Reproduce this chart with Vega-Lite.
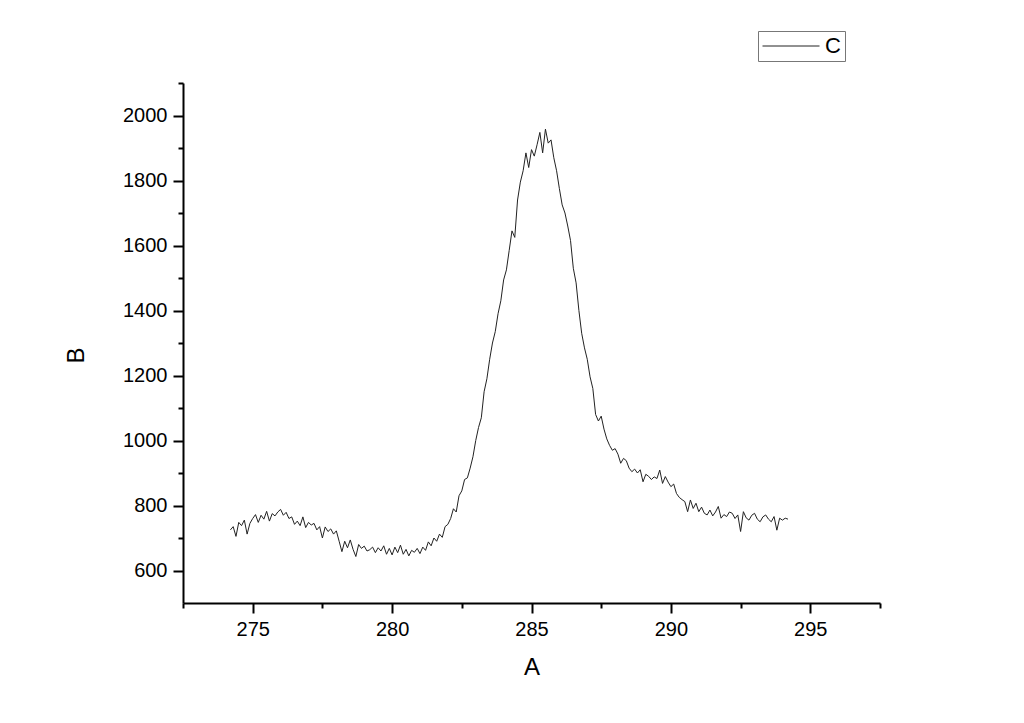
{
  "$schema": "https://vega.github.io/schema/vega-lite/v6.json",
  "width": 697,
  "height": 520,
  "autosize": {"type": "none"},
  "padding": {"left": 183, "top": 83, "right": 144, "bottom": 120},
  "background": "white",
  "config": {
    "view": {"stroke": null},
    "font": "Liberation Sans",
    "axis": {"grid": false, "domainColor": "black", "tickColor": "black", "labelColor": "black", "titleColor": "black", "domainWidth": 2, "tickWidth": 2, "labelFont": "Liberation Sans", "titleFont": "Liberation Sans", "titleFontWeight": "normal"}
  },
  "data": {"values": [
    {"x": 274.2, "y": 725}, {"x": 274.3, "y": 735}, {"x": 274.4, "y": 705}, {"x": 274.5, "y": 748}, {"x": 274.6, "y": 738},
    {"x": 274.7, "y": 755}, {"x": 274.8, "y": 712}, {"x": 274.9, "y": 745}, {"x": 275.0, "y": 760}, {"x": 275.1, "y": 772},
    {"x": 275.2, "y": 748}, {"x": 275.3, "y": 770}, {"x": 275.4, "y": 758}, {"x": 275.5, "y": 782}, {"x": 275.6, "y": 752},
    {"x": 275.7, "y": 775}, {"x": 275.8, "y": 768}, {"x": 275.9, "y": 780}, {"x": 276.0, "y": 788}, {"x": 276.1, "y": 770},
    {"x": 276.2, "y": 779}, {"x": 276.3, "y": 760}, {"x": 276.4, "y": 765}, {"x": 276.5, "y": 742}, {"x": 276.6, "y": 752},
    {"x": 276.7, "y": 738}, {"x": 276.8, "y": 765}, {"x": 276.9, "y": 732}, {"x": 277.0, "y": 748}, {"x": 277.1, "y": 740},
    {"x": 277.2, "y": 745}, {"x": 277.3, "y": 725}, {"x": 277.4, "y": 735}, {"x": 277.5, "y": 700}, {"x": 277.6, "y": 734},
    {"x": 277.7, "y": 720}, {"x": 277.8, "y": 728}, {"x": 277.9, "y": 712}, {"x": 278.0, "y": 722}, {"x": 278.1, "y": 690},
    {"x": 278.2, "y": 658}, {"x": 278.3, "y": 690}, {"x": 278.4, "y": 670}, {"x": 278.5, "y": 694}, {"x": 278.6, "y": 665},
    {"x": 278.7, "y": 643}, {"x": 278.8, "y": 680}, {"x": 278.9, "y": 668}, {"x": 279.0, "y": 675}, {"x": 279.1, "y": 660},
    {"x": 279.2, "y": 664}, {"x": 279.3, "y": 672}, {"x": 279.4, "y": 655}, {"x": 279.5, "y": 670}, {"x": 279.6, "y": 660},
    {"x": 279.7, "y": 676}, {"x": 279.8, "y": 650}, {"x": 279.9, "y": 668}, {"x": 280.0, "y": 648}, {"x": 280.1, "y": 672},
    {"x": 280.2, "y": 655}, {"x": 280.3, "y": 678}, {"x": 280.4, "y": 650}, {"x": 280.5, "y": 665}, {"x": 280.6, "y": 645},
    {"x": 280.7, "y": 662}, {"x": 280.8, "y": 656}, {"x": 280.9, "y": 668}, {"x": 281.0, "y": 652}, {"x": 281.1, "y": 672},
    {"x": 281.2, "y": 662}, {"x": 281.3, "y": 688}, {"x": 281.4, "y": 676}, {"x": 281.5, "y": 700}, {"x": 281.6, "y": 690},
    {"x": 281.7, "y": 712}, {"x": 281.8, "y": 702}, {"x": 281.9, "y": 735}, {"x": 282.0, "y": 742}, {"x": 282.1, "y": 760},
    {"x": 282.2, "y": 790}, {"x": 282.3, "y": 780}, {"x": 282.4, "y": 830}, {"x": 282.5, "y": 845}, {"x": 282.6, "y": 880},
    {"x": 282.7, "y": 885}, {"x": 282.8, "y": 915}, {"x": 282.9, "y": 950}, {"x": 283.0, "y": 1000}, {"x": 283.1, "y": 1040},
    {"x": 283.2, "y": 1070}, {"x": 283.3, "y": 1150}, {"x": 283.4, "y": 1190}, {"x": 283.5, "y": 1250}, {"x": 283.6, "y": 1300},
    {"x": 283.7, "y": 1335}, {"x": 283.8, "y": 1390}, {"x": 283.9, "y": 1430}, {"x": 284.0, "y": 1494}, {"x": 284.1, "y": 1525},
    {"x": 284.2, "y": 1585}, {"x": 284.3, "y": 1645}, {"x": 284.4, "y": 1625}, {"x": 284.5, "y": 1740}, {"x": 284.6, "y": 1795},
    {"x": 284.7, "y": 1830}, {"x": 284.8, "y": 1885}, {"x": 284.9, "y": 1840}, {"x": 285.0, "y": 1895}, {"x": 285.1, "y": 1875},
    {"x": 285.2, "y": 1910}, {"x": 285.3, "y": 1948}, {"x": 285.4, "y": 1885}, {"x": 285.5, "y": 1958}, {"x": 285.6, "y": 1915},
    {"x": 285.7, "y": 1925}, {"x": 285.8, "y": 1870}, {"x": 285.9, "y": 1830}, {"x": 286.0, "y": 1775}, {"x": 286.1, "y": 1725},
    {"x": 286.2, "y": 1700}, {"x": 286.3, "y": 1660}, {"x": 286.4, "y": 1615}, {"x": 286.5, "y": 1530}, {"x": 286.6, "y": 1485},
    {"x": 286.7, "y": 1400}, {"x": 286.8, "y": 1330}, {"x": 286.9, "y": 1285}, {"x": 287.0, "y": 1250}, {"x": 287.1, "y": 1196},
    {"x": 287.2, "y": 1160}, {"x": 287.3, "y": 1080}, {"x": 287.4, "y": 1060}, {"x": 287.5, "y": 1075}, {"x": 287.6, "y": 1035},
    {"x": 287.7, "y": 1005}, {"x": 287.8, "y": 985}, {"x": 287.9, "y": 970}, {"x": 288.0, "y": 975}, {"x": 288.1, "y": 958},
    {"x": 288.2, "y": 930}, {"x": 288.3, "y": 945}, {"x": 288.4, "y": 938}, {"x": 288.5, "y": 915}, {"x": 288.6, "y": 904},
    {"x": 288.7, "y": 912}, {"x": 288.8, "y": 900}, {"x": 288.9, "y": 910}, {"x": 289.0, "y": 873}, {"x": 289.1, "y": 896},
    {"x": 289.2, "y": 890}, {"x": 289.3, "y": 880}, {"x": 289.4, "y": 888}, {"x": 289.5, "y": 883}, {"x": 289.6, "y": 909},
    {"x": 289.7, "y": 868}, {"x": 289.8, "y": 889}, {"x": 289.9, "y": 872}, {"x": 290.0, "y": 858}, {"x": 290.1, "y": 866},
    {"x": 290.2, "y": 837}, {"x": 290.3, "y": 825}, {"x": 290.4, "y": 818}, {"x": 290.5, "y": 812}, {"x": 290.6, "y": 781},
    {"x": 290.7, "y": 817}, {"x": 290.8, "y": 791}, {"x": 290.9, "y": 807}, {"x": 291.0, "y": 781}, {"x": 291.1, "y": 795},
    {"x": 291.2, "y": 776}, {"x": 291.3, "y": 771}, {"x": 291.4, "y": 786}, {"x": 291.5, "y": 768}, {"x": 291.6, "y": 780},
    {"x": 291.7, "y": 797}, {"x": 291.8, "y": 761}, {"x": 291.9, "y": 772}, {"x": 292.0, "y": 766}, {"x": 292.1, "y": 780},
    {"x": 292.2, "y": 776}, {"x": 292.3, "y": 760}, {"x": 292.4, "y": 771}, {"x": 292.5, "y": 720}, {"x": 292.6, "y": 781},
    {"x": 292.7, "y": 762}, {"x": 292.8, "y": 755}, {"x": 292.9, "y": 770}, {"x": 293.0, "y": 776}, {"x": 293.1, "y": 758},
    {"x": 293.2, "y": 750}, {"x": 293.3, "y": 765}, {"x": 293.4, "y": 771}, {"x": 293.5, "y": 758}, {"x": 293.6, "y": 750},
    {"x": 293.7, "y": 766}, {"x": 293.8, "y": 724}, {"x": 293.9, "y": 761}, {"x": 294.0, "y": 755}, {"x": 294.1, "y": 761},
    {"x": 294.2, "y": 758}
  ]},
  "layer": [
    {
      "mark": {"type": "line", "strokeWidth": 1, "interpolate": "linear"},
      "encoding": {
        "x": {"field": "x", "type": "quantitative", "scale": {"domain": [272.5, 297.5], "nice": false, "zero": false},
          "axis": {"orient": "bottom", "values": [275, 280, 285, 290, 295], "format": "d", "tickSize": 10, "labelFontSize": 20, "labelPadding": 6, "title": "A", "titleFontSize": 24, "titlePadding": 16}},
        "y": {"field": "y", "type": "quantitative", "scale": {"domain": [500, 2100], "nice": false, "zero": false},
          "axis": {"orient": "left", "values": [600, 800, 1000, 1200, 1400, 1600, 1800, 2000], "format": "d", "tickSize": 10, "labelFontSize": 20, "labelPadding": 6, "title": "B", "titleFontSize": 24, "titlePadding": 34, "titleY": 272}},
        "color": {"datum": "C", "type": "nominal", "scale": {"range": ["#222222"]},
          "legend": {"title": null, "orient": "none", "legendX": 575, "legendY": -52, "strokeColor": "#777777", "padding": 4, "symbolType": "M-3,0H3", "symbolSize": 361, "symbolStrokeWidth": 1, "symbolOffset": 18, "labelOffset": 23, "labelFontSize": 22, "labelFont": "Liberation Sans", "labelColor": "black"}}
      }
    },
    {
      "mark": {"type": "line", "opacity": 0},
      "encoding": {
        "x": {"field": "x", "type": "quantitative",
          "axis": {"orient": "bottom", "values": [272.5, 277.5, 282.5, 287.5, 292.5, 297.5], "tickSize": 5, "labels": false, "domain": false, "title": null}},
        "y": {"field": "y", "type": "quantitative",
          "axis": {"orient": "left", "values": [700, 900, 1100, 1300, 1500, 1700, 1900, 2100], "tickSize": 5, "labels": false, "domain": false, "title": null}}
      }
    }
  ],
  "resolve": {"axis": {"x": "independent", "y": "independent"}}
}
